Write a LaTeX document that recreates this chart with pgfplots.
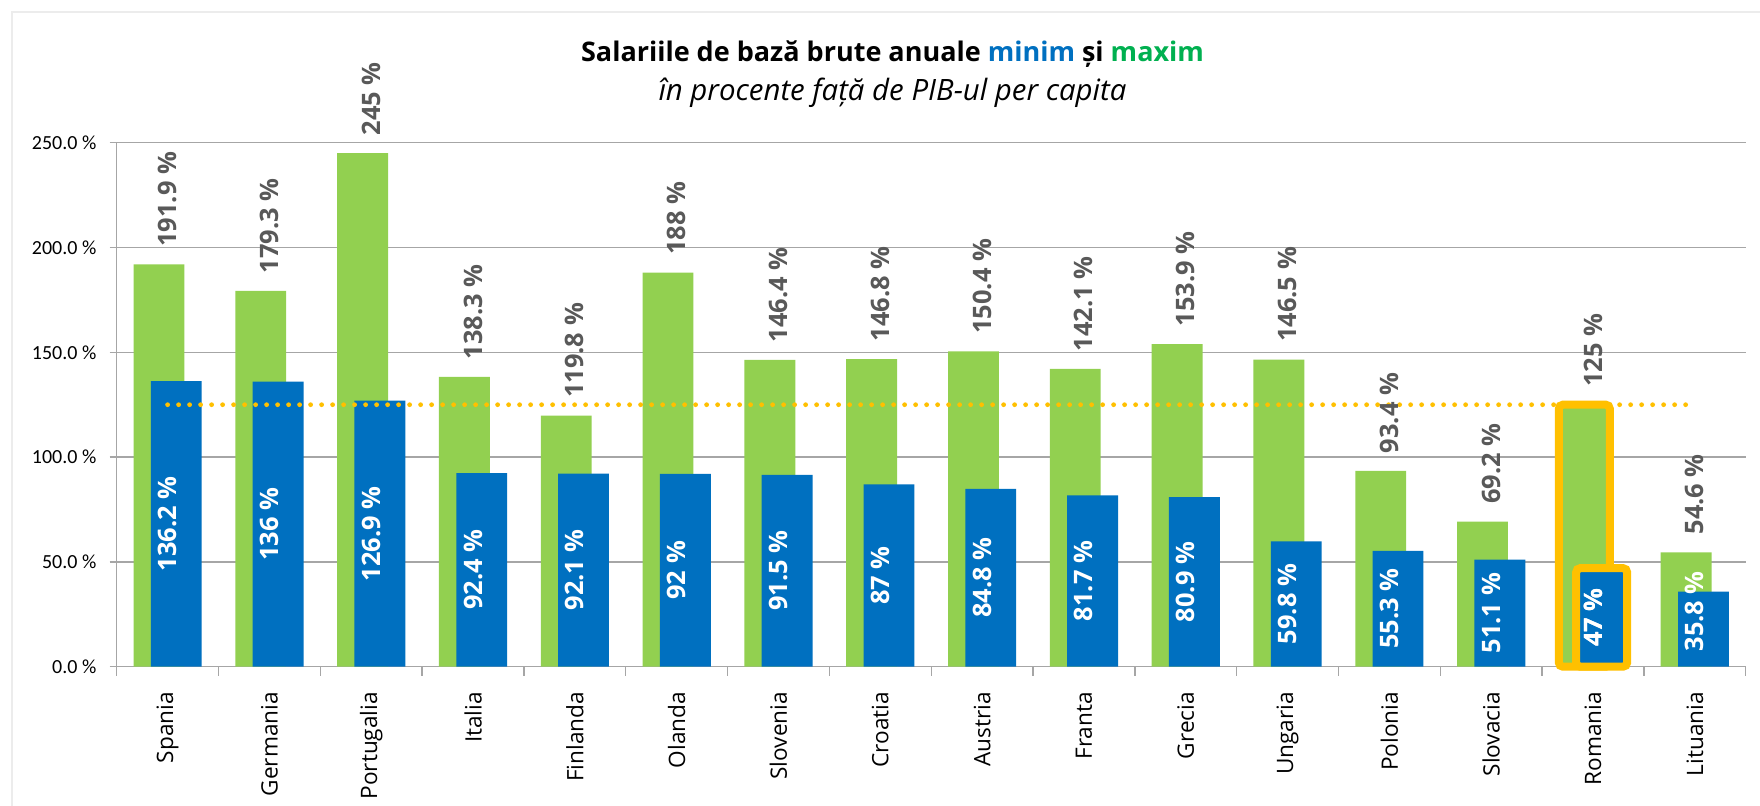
\documentclass[border=0pt]{standalone}
\usepackage{fontspec}
\usepackage{pgfplots}
\usepackage{pgfplotstable}
\pgfplotsset{compat=1.18}
\setmainfont{Open Sans}
\newfontfamily\calibri{Carlito}

\definecolor{cgreen}{HTML}{92D050}
\definecolor{cblue}{HTML}{0070C0}
\definecolor{corange}{HTML}{FFC000}
\definecolor{ctitlegreen}{HTML}{00B050}
\definecolor{clabel}{HTML}{595959}
\definecolor{cgrid}{HTML}{A6A6A6}

% lc = pozitia (centrul) etichetei albe pe bara minim
\pgfplotstableread{
i name max min lc
0 Spania 191.9 136.2 68.1
1 Germania 179.3 136 68
2 Portugalia 245 126.9 63.45
3 Italia 138.3 92.4 46.2
4 Finlanda 119.8 92.1 46.05
5 Olanda 188 92 46
6 Slovenia 146.4 91.5 45.75
7 Croatia 146.8 87 43.5
8 Austria 150.4 84.8 42.4
9 Franta 142.1 81.7 40.85
10 Grecia 153.9 80.9 40.45
11 Ungaria 146.5 59.8 29.9
12 Polonia 93.4 55.3 27.65
13 Slovacia 69.2 51.1 25.55
14 Romania 125 47 23.5
15 Lituania 54.6 35.8 26.4
}\data

\pgfplotstableread{
i max min lc
14 125 47 23.5
}\romania

\newcommand\labfont{\fontsize{12.7}{14}\selectfont\bfseries}

\pgfplotsset{
  minlabels/.style={
    point meta=explicit symbolic,
    visualization depends on={rawy \as \rawy},
    visualization depends on={\thisrow{lc} \as \lc},
    nodes near coords={\pgfplotspointmeta~\%},
    every node near coord/.append style={shift={(axis direction cs:0,{\lc-\rawy})},
      rotate=90, anchor=center, inner sep=0pt, text=white, font=\labfont}},
}

\begin{document}
\begin{tikzpicture}
\useasboundingbox (0,0) rectangle (880pt,403pt);
\fill[white] (0,0) rectangle (880pt,403pt);
\draw[gray!15, line width=1pt] (5.8pt,0) -- (5.8pt,397pt) -- (880pt,397pt);

\node[anchor=base] at (446.25pt,372.2pt) {\fontsize{13.5}{16}\selectfont\bfseries
  Salariile de bază brute anuale \textcolor{cblue}{minim} și \textcolor{ctitlegreen}{maxim}};
\node[anchor=base] at (446.25pt,352.5pt) {\fontsize{14.7}{17}\selectfont\itshape
  în procente față de PIB-ul per capita};

\begin{axis}[
  at={(58.35pt,69.65pt)}, anchor=south west,
  width=814.5pt, height=262pt, scale only axis,
  xmin=-0.5, xmax=15.5, ymin=0, ymax=250,
  axis x line*=bottom, axis y line*=left,
  axis line style={draw=cgrid, line width=0.7pt},
  ymajorgrids, grid style={draw=cgrid, line width=0.7pt},
  tick align=outside,
  xtick={0,...,15},
  xticklabels={Spania,Germania,Portugalia,Italia,Finlanda,Olanda,Slovenia,Croatia,Austria,Franta,Grecia,Ungaria,Polonia,Slovacia,Romania,Lituania},
  major x tick style={draw=none},
  minor xtick={-0.5,0.5,...,15.5},
  minor tick length=4.5pt,
  minor x tick style={draw=cgrid, line width=0.7pt},
  ytick={0,50,...,250},
  major tick length=3.5pt,
  major y tick style={draw=cgrid, line width=0.7pt},
  xticklabel style={rotate=90, anchor=east, inner sep=0pt,
    font=\fontsize{11.3}{13}\selectfont, text=black},
  xticklabel shift=9pt,
  yticklabel={\pgfmathprintnumber[fixed,fixed zerofill,precision=1,assume math mode=true]{\tick}~\%},
  yticklabel style={inner sep=0pt, font=\calibri\fontsize{10}{12}\selectfont, text=black},
  yticklabel shift=6.5pt,
  clip=false,
]
% maxim
\addplot[ybar, bar width=0.5, bar shift=-0.085, fill=cgreen, draw=none,
  point meta=explicit symbolic,
  nodes near coords={\pgfplotspointmeta~\%},
  every node near coord/.append style={rotate=90, anchor=west,
    inner xsep=8.7pt, inner ysep=0pt, text=clabel, font=\labfont}]
  table[x=i, y=max, meta=max] {\data};
% minim
\addplot[ybar, bar width=0.5, bar shift=0.085, fill=cblue, draw=none, minlabels]
  table[x=i, y=min, meta=min] {\data};
% linie de referinta (Romania maxim)
\addplot[corange, line width=2.4pt, dash pattern=on 0pt off 5.5pt, line cap=round]
  coordinates {(0,125) (15,125)};
% evidentiere Romania
\addplot[ybar, bar width=0.5, bar shift=-0.085, fill=cgreen, draw=corange,
  line width=4pt, rounded corners=2pt]
  table[x=i, y=max] {\romania};
\addplot[ybar, bar width=0.5, bar shift=0.085, fill=cblue, draw=corange,
  line width=4pt, rounded corners=2pt, minlabels]
  table[x=i, y=min, meta=min] {\romania};
\end{axis}
\end{tikzpicture}
\end{document}
